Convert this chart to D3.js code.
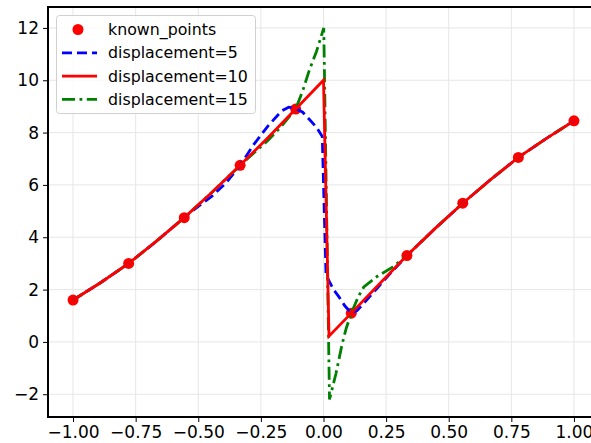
<!DOCTYPE html>
<html>
<head>
<meta charset="utf-8">
<script src="https://cdn.jsdelivr.net/npm/d3@7"></script>
<style>
  body { margin: 0; background: #fff; }
  svg { font-family: "DejaVu Sans", sans-serif; display: block; }
</style>
</head>
<body>
<div class="canvas"></div>
<script>
// known sample points
const knownX = [-1, -0.778, -0.556, -0.333, -0.111, 0.111, 0.333, 0.556, 0.778, 1];
const knownY = [1.6, 3.0, 4.75, 6.75, 8.9, 1.1, 3.3, 5.3, 7.05, 8.45];

// displacement=5 (blue dashed)
const disp5 = [
  [-1, 1.6], [-0.889, 2.27], [-0.778, 3.0], [-0.667, 3.85], [-0.556, 4.75],
  [-0.5, 5.18], [-0.444, 5.58], [-0.389, 6.08], [-0.333, 6.75], [-0.278, 7.55],
  [-0.222, 8.25], [-0.167, 8.83], [-0.139, 8.97], [-0.111, 8.92], [-0.083, 8.78],
  [-0.056, 8.5], [-0.028, 8.2], [-0.005, 7.85], [0.003, 5.0], [0.01, 2.6],
  [0.021, 2.35], [0.04, 2.0], [0.061, 1.73], [0.085, 1.38], [0.111, 1.1],
  [0.134, 1.2], [0.174, 1.62], [0.214, 2.05], [0.27, 2.65], [0.333, 3.3],
  [0.444, 4.32], [0.556, 5.3], [0.667, 6.2], [0.778, 7.05], [0.889, 7.77], [1, 8.45]
];

// displacement=10 (red solid)
const disp10 = [
  [-1, 1.6], [-0.889, 2.27], [-0.778, 3.0], [-0.667, 3.85], [-0.556, 4.75],
  [-0.444, 5.73], [-0.333, 6.75], [-0.222, 7.8], [-0.111, 8.9], [0, 10.0],
  [0.022, 0.22], [0.111, 1.1], [0.222, 2.2], [0.333, 3.3], [0.444, 4.32],
  [0.556, 5.3], [0.667, 6.2], [0.778, 7.05], [0.889, 7.77], [1, 8.45]
];

// displacement=15 (green dash-dot)
const disp15 = [
  [-1, 1.6], [-0.889, 2.27], [-0.778, 3.0], [-0.667, 3.85], [-0.556, 4.75],
  [-0.444, 5.73], [-0.333, 6.75], [-0.278, 7.22], [-0.222, 7.7], [-0.167, 8.25],
  [-0.111, 8.9], [-0.083, 9.6], [-0.056, 10.4], [-0.028, 11.1], [0.001, 12.0],
  [0.024, -2.2], [0.05, -1.2], [0.074, -0.1], [0.09, 0.5], [0.111, 1.1],
  [0.14, 1.75], [0.161, 2.1], [0.214, 2.5], [0.274, 2.85], [0.333, 3.3],
  [0.444, 4.32], [0.556, 5.3], [0.667, 6.2], [0.778, 7.05], [0.889, 7.77], [1, 8.45]
];

const xTicks = [-1, -0.75, -0.5, -0.25, 0, 0.25, 0.5, 0.75, 1];
const yTicks = [-2, 0, 2, 4, 6, 8, 10, 12];

const width = 591, height = 443;
const padL = 48, padT = 7, padR = 599, padB = 417;

const svg = d3.select('.canvas')
    .append('svg')
    .attr('width', width)
    .attr('height', height)
    ;

const xScale = d3.scaleLinear()
    .domain([-1.1, 1.1])
    .range([padL, padR])
    ;

const yScale = d3.scaleLinear()
    .domain([-2.87, 12.8])
    .range([padB, padT])
    ;

//Grid
const grid = svg.append('g').attr('class', 'grid');
grid.selectAll('line.gx')
    .data(xTicks)
    .enter()
    .append('line')
    .attr('x1', (d) => xScale(d)).attr('x2', (d) => xScale(d))
    .attr('y1', padT).attr('y2', padB)
    .attr('stroke', '#e6e6e6').attr('stroke-width', 1);
grid.selectAll('line.gy')
    .data(yTicks)
    .enter()
    .append('line')
    .attr('x1', padL).attr('x2', padR)
    .attr('y1', (d) => yScale(d)).attr('y2', (d) => yScale(d))
    .attr('stroke', '#e6e6e6').attr('stroke-width', 1);

//Lines
const line = d3.line()
    .x((d) => xScale(d[0]))
    .y((d) => yScale(d[1]))
    ;

svg.selectAll('circle.known')
    .data(knownX.map((x, i) => [x, knownY[i]]))
    .enter()
    .append('circle')
    .attr('class', 'known')
    .attr('cx', (d) => xScale(d[0]))
    .attr('cy', (d) => yScale(d[1]))
    .attr('r', 5.5)
    .attr('fill', '#ff0000')
    ;

svg.append('path')
    .datum(disp5)
    .attr('d', line)
    .attr('fill', 'none')
    .attr('stroke', '#0000ff')
    .attr('stroke-width', 2.8)
    .attr('stroke-dasharray', '10,5')
    ;

svg.append('path')
    .datum(disp15)
    .attr('d', line)
    .attr('fill', 'none')
    .attr('stroke', '#008000')
    .attr('stroke-width', 2.8)
    .attr('stroke-dasharray', '13,4.5,2.8,4.5')
    ;

svg.append('path')
    .datum(disp10)
    .attr('d', line)
    .attr('fill', 'none')
    .attr('stroke', '#ff0000')
    .attr('stroke-width', 2.8)
    ;

//Axes
const xAxis = d3.axisBottom(xScale).tickValues(xTicks).tickFormat(d3.format('.2f')).tickSize(5).tickPadding(4);
svg.append('g')
    .attr('transform', `translate(0, ${padB})`)
    .attr('id', 'x-axis')
    .call(xAxis)
    .call(g => g.select('.domain').remove())
    ;

const yAxis = d3.axisLeft(yScale).tickValues(yTicks).tickFormat(d3.format('d')).tickSize(5).tickPadding(4);
svg.append('g')
    .attr('transform', `translate(${padL}, 0)`)
    .attr('id', 'y-axis')
    .call(yAxis)
    .call(g => g.select('.domain').remove())
    ;

svg.selectAll('#x-axis text, #y-axis text')
    .attr('font-size', 17)
    .attr('font-family', 'DejaVu Sans')
    .attr('fill', '#000');
svg.selectAll('#x-axis line, #y-axis line').attr('stroke', '#000').attr('stroke-width', 1);

//Spines
svg.append('rect')
    .attr('x', padL)
    .attr('y', padT)
    .attr('width', padR - padL)
    .attr('height', padB - padT)
    .attr('fill', 'none')
    .attr('stroke', '#000')
    .attr('stroke-width', 2)
    ;

//Legend
const legendItems = [
    { label: 'known_points', type: 'marker', color: '#ff0000' },
    { label: 'displacement=5', type: 'line', color: '#0000ff', dash: '10,5' },
    { label: 'displacement=10', type: 'line', color: '#ff0000', dash: null },
    { label: 'displacement=15', type: 'line', color: '#008000', dash: '13,4.5,2.8,4.5' }
];

svg.append('g')
    .attr('id', 'legend')
    .call(g => {
        g.append('rect')
            .attr('x', 56.5).attr('y', 15.5)
            .attr('width', 199).attr('height', 98)
            .attr('rx', 3)
            .attr('fill', 'rgba(255,255,255,0.8)')
            .attr('stroke', '#d0d0d0');
        legendItems.forEach((item, i) => {
            const y = 29.5 + i * 23.3;
            if (item.type === 'marker') {
                g.append('circle')
                    .attr('cx', 78).attr('cy', y)
                    .attr('r', 5.5)
                    .attr('fill', item.color);
            } else {
                g.append('line')
                    .attr('x1', 62).attr('x2', 97)
                    .attr('y1', y).attr('y2', y)
                    .attr('stroke', item.color)
                    .attr('stroke-width', 2.8)
                    .attr('stroke-dasharray', item.dash);
            }
            g.append('text')
                .attr('x', 108)
                .attr('y', y + 5.5)
                .attr('font-size', 15.8)
                .attr('fill', '#000')
                .text(item.label);
        });
    })
    ;
</script>
</body>
</html>
